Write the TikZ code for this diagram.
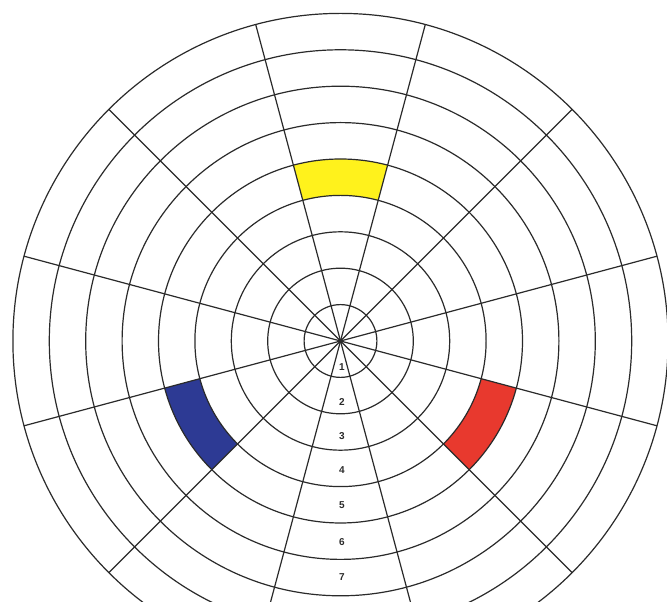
\documentclass[tikz,border=0pt]{standalone}
\usepackage{fontspec}
\setsansfont{Liberation Sans}
\definecolor{ringline}{HTML}{2A2A2A}
\definecolor{cyel}{HTML}{FFF21C}
\definecolor{cred}{HTML}{E8392E}
\definecolor{cblue}{HTML}{2D3A94}
\tikzset{
  gridline/.style={draw=ringline, line width=1.2pt},
  numlabel/.style={font=\sffamily\bfseries\fontsize{10}{12}\selectfont, text=ringline, inner sep=0pt},
}
\begin{document}
\begin{tikzpicture}[x=1pt,y=1pt]
\useasboundingbox (0,0) rectangle (667,602);
\fill[white] (0,0) rectangle (667,602);
\clip (0,0) rectangle (667,602);
\begin{scope}[shift={(340.5,261)}]
  \def\rw{36.4}
  % coloured cells in band 5
  \fill[cyel] (75:145.6) arc[start angle=75,end angle=105,radius=145.6] -- (105:182) arc[start angle=105,end angle=75,radius=182] -- cycle;
  \fill[cred] (-45:145.6) arc[start angle=-45,end angle=-15,radius=145.6] -- (-15:182) arc[start angle=-15,end angle=-45,radius=182] -- cycle;
  \fill[cblue] (195:145.6) arc[start angle=195,end angle=225,radius=145.6] -- (225:182) arc[start angle=225,end angle=195,radius=182] -- cycle;
  % rings
  \foreach \k in {1,...,9} {
    \draw[gridline] (0,0) circle[radius=\k*\rw];
  }
  % spokes
  \coordinate (c) at (0,0);
  \foreach \a in {15,45,...,345} {
    \coordinate (s\a) at (\a:327.6);
    \draw[gridline] (c) -- (s\a);
  }
  \fill[ringline] (c) circle[radius=2.2];
  % numbers
  \node[numlabel] (n1) at (1.5,-26) {1};
  \node[numlabel] (n2) at (1.5,-61) {2};
  \node[numlabel] (n3) at (1.5,-95) {3};
  \node[numlabel] (n4) at (1.5,-129) {4};
  \node[numlabel] (n5) at (1.5,-164) {5};
  \node[numlabel] (n6) at (1.5,-201) {6};
  \node[numlabel] (n7) at (1.5,-236) {7};
\end{scope}
\end{tikzpicture}
\end{document}
